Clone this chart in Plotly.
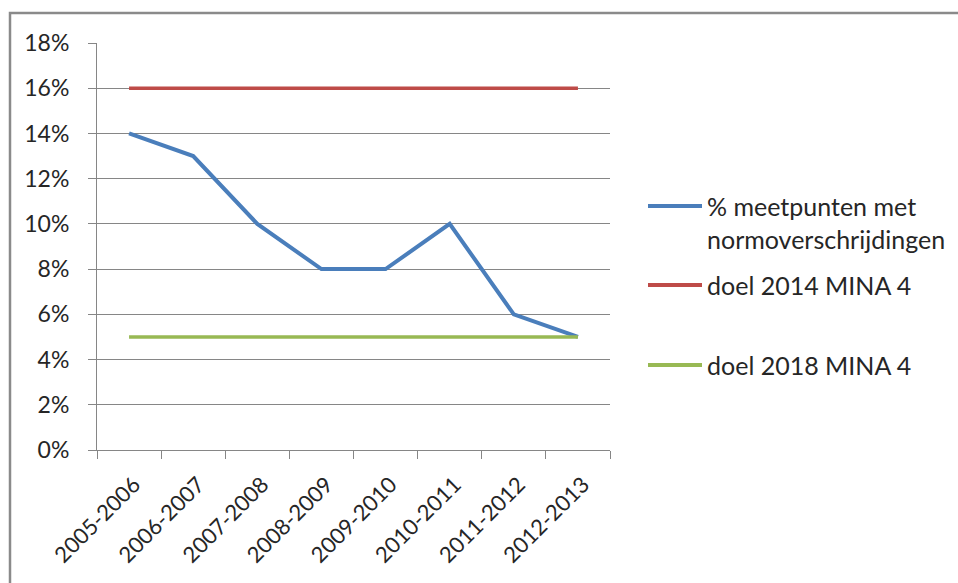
import plotly.graph_objects as go

# School years on the category axis
years = ["2005-2006", "2006-2007", "2007-2008", "2008-2009",
         "2009-2010", "2010-2011", "2011-2012", "2012-2013"]

# Share of measuring points exceeding the norm (%)
pct_exceed = [14, 13, 10, 8, 8, 10, 6, 5]
# Policy targets (%)
target_2014 = [16] * len(years)
target_2018 = [5] * len(years)

y_ticks = [0, 2, 4, 6, 8, 10, 12, 14, 16, 18]

series_names = ["% meetpunten met<br>normoverschrijdingen",
                "doel 2014 MINA 4", "doel 2018 MINA 4"]
series_colors = ["#4A7EBB", "#BE4B48", "#98B954"]

FONT = "Lato"
TXT = "#262626"
GRID = "#868686"

W, H = 958, 583
L, R, T, B = 97, 610, 43, 450
pw, ph = R - L, B - T


def px_x(p):
    return (p - L) / pw


def px_y(p):
    return (B - p) / ph


fig = go.Figure()
for vals, name, col, w in zip([pct_exceed, target_2014, target_2018],
                              series_names, series_colors, [4, 3.5, 3.5]):
    fig.add_trace(go.Scatter(x=years, y=vals, mode="lines", name=name,
                             line=dict(color=col, width=w),
                             showlegend=False))

# Legend drawn at the right of the plot area
shapes = []
annotations = []
legend_rows = [(206, 222), (285, 285), (365, 365)]  # (swatch y, text centre y)
for (sy, ty), name, col in zip(legend_rows, series_names, series_colors):
    shapes.append(dict(type="line", xref="paper", yref="paper",
                       x0=px_x(648), x1=px_x(702), y0=px_y(sy), y1=px_y(sy),
                       line=dict(color=col, width=4)))
    annotations.append(dict(xref="paper", yref="paper", x=px_x(705),
                            y=px_y(ty), xanchor="left", yanchor="middle",
                            align="left", showarrow=False, text=name,
                            font=dict(family=FONT, size=25, color=TXT)))

# Outer chart frame
shapes.append(dict(type="rect", xref="paper", yref="paper",
                   x0=px_x(10), x1=px_x(W + 5),
                   y0=px_y(H + 10), y1=px_y(13),
                   line=dict(color="#8a8a8a", width=2.5),
                   fillcolor="rgba(0,0,0,0)", layer="below"))

fig.update_layout(
    width=W, height=H,
    margin=dict(l=L, r=W - R, t=T, b=H - B),
    paper_bgcolor="white", plot_bgcolor="white",
    font=dict(family=FONT, size=23, color=TXT),
    showlegend=False,
    xaxis=dict(type="category", range=[-0.5, len(years) - 0.5],
               tickson="boundaries", showgrid=False,
               showline=True, linecolor=GRID, linewidth=1,
               ticks="outside", ticklen=8, tickcolor=GRID,
               tickangle=-45, tickfont=dict(size=22),
               ticklabelstandoff=12, ticklabelshift=5),
    yaxis=dict(range=[0, 18], tickvals=y_ticks,
               ticktext=[f"{v}%" for v in y_ticks],
               showgrid=True, gridcolor=GRID, gridwidth=1,
               showline=True, linecolor=GRID, linewidth=1,
               ticks="outside", ticklen=8, tickcolor=GRID,
               ticklabelstandoff=14, zeroline=False,
               tickfont=dict(size=23)),
    shapes=shapes,
    annotations=annotations,
)

fig.write_html("out.html")
